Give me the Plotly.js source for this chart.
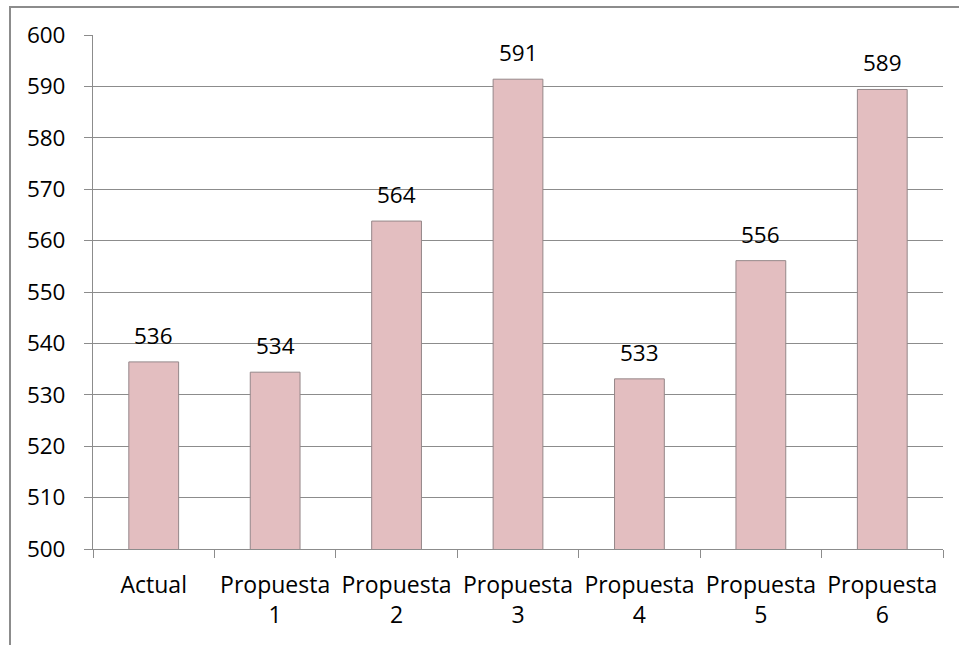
<!DOCTYPE html>
<html><head><meta charset="utf-8">
<script src="https://cdn.plot.ly/plotly-3.0.1.min.js"></script>
<style>
html,body{margin:0;padding:0;background:#fff;overflow:hidden}
#chart{position:absolute;left:0;top:0;width:959px;height:645px}
#frame{position:absolute;left:9px;top:6px;width:1000px;height:700px;border-left:2px solid #8c8c8c;border-top:2px solid #8c8c8c;pointer-events:none}
</style></head><body>
<div id="chart"></div><div id="frame"></div>
<script>
const categories = ['Actual','Propuesta<br>1','Propuesta<br>2','Propuesta<br>3','Propuesta<br>4','Propuesta<br>5','Propuesta<br>6'];
const values = [536.4, 534.4, 563.8, 591.4, 533.1, 556.1, 589.4];
const yTicks = [500,510,520,530,540,550,560,570,580,590,600];

const FONT = '"Open Sans", Lato, sans-serif';

const trace = {
  type: 'bar', x: categories, y: values,
  marker: {color: '#e3bec0', line: {color: '#958789', width: 1}},
  hoverinfo: 'none'
};

const annotations = values.map((v, i) => ({
  x: categories[i], y: v, xref: 'x', yref: 'y',
  text: String(Math.round(v)), showarrow: false,
  yanchor: 'bottom', yshift: 9,
  font: {family: FONT, size: 22.5, color: '#000'}
}));

const layout = {
  width: 959, height: 645,
  margin: {l: 93, r: 16, t: 35, b: 96, pad: 0},
  paper_bgcolor: '#fff', plot_bgcolor: '#fff',
  showlegend: false, bargap: 0.59,
  font: {family: FONT, size: 23, color: '#000'},
  xaxis: {
    type: 'category', range: [-0.5, 6.5], showgrid: false,
    showline: true, linecolor: '#8c8c8c', linewidth: 1,
    ticks: 'outside', tickson: 'boundaries', ticklen: 8, tickcolor: '#8c8c8c', tickwidth: 1,
    ticklabelstandoff: 15,
    tickfont: {family: FONT, size: 23, color: '#000'}
  },
  yaxis: {
    range: [500, 600], tickvals: yTicks, ticktext: yTicks.map(String),
    showgrid: true, gridcolor: '#8c8c8c', gridwidth: 1,
    showline: true, linecolor: '#8c8c8c', linewidth: 1,
    ticks: 'outside', ticklen: 8, tickcolor: '#8c8c8c', tickwidth: 1,
    ticklabelstandoff: 14, zeroline: false,
    tickfont: {family: FONT, size: 22.5, color: '#000'}
  },
  annotations: annotations
};

Plotly.newPlot('chart', [trace], layout, {staticPlot: true, displayModeBar: false});
</script>
</body></html>
